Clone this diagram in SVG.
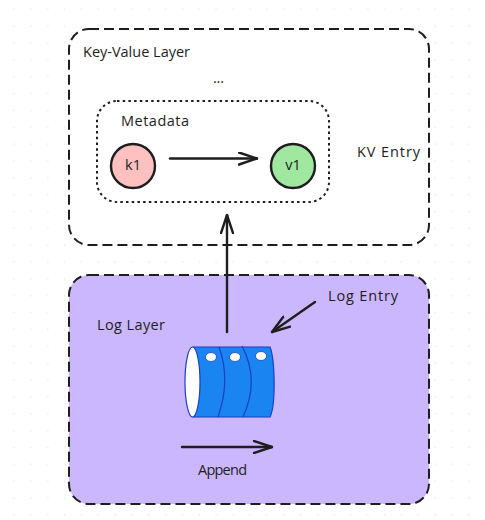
<svg xmlns="http://www.w3.org/2000/svg" width="485" height="520" viewBox="0 0 485 520">
<defs>
<pattern id="dots" x="5.6" y="0.9" width="16.85" height="16.85" patternUnits="userSpaceOnUse"><circle cx="8.4" cy="8.4" r="1" fill="#eeeef2"/></pattern>
<marker id="arr" viewBox="0 0 20 14" markerWidth="20" markerHeight="14" refX="19" refY="7" orient="auto" markerUnits="userSpaceOnUse"><path d="M1 1 L19 7 L1 13" fill="none" stroke="#1e1e1e" stroke-width="2.4" stroke-linecap="round" stroke-linejoin="round"/></marker>
</defs>
<style>
text{font-family:"Open Sans","DejaVu Sans",sans-serif;fill:#1e1e1e;font-size:14.5px}
.line{fill:none;stroke:#1e1e1e;stroke-width:2.4;stroke-linecap:round}
.dash{stroke:#1e1e1e;stroke-width:2;stroke-dasharray:10 5}
.dot{fill:none;stroke:#1e1e1e;stroke-width:2;stroke-dasharray:2.5 3.2}
.c{stroke:#1e1e1e;stroke-width:2.4}
.hole{fill:#fff;stroke:#1a3fc0;stroke-width:.8}
.rib{fill:none;stroke:#1a3fc0;stroke-width:1.2}
</style>
<rect width="485" height="520" fill="#fff"/>
<rect width="485" height="520" fill="url(#dots)"/>
<g id="kv-layer"><rect x="69" y="29" width="360" height="216" rx="20" fill="#fff" class="dash"/>
<text x="83" y="57" textLength="107" lengthAdjust="spacing">Key-Value Layer</text><text x="213" y="83" textLength="11" lengthAdjust="spacing">...</text><text x="357" y="157" textLength="63" lengthAdjust="spacing">KV Entry</text></g>
<g id="metadata"><rect x="97" y="101" width="232" height="101" rx="20" class="dot"/><text x="121" y="126" textLength="68" lengthAdjust="spacing">Metadata</text></g>
<g id="k1"><circle cx="133" cy="166" r="22" fill="#ffc0c0" class="c"/><text x="133" y="170" text-anchor="middle">k1</text></g>
<g id="v1"><circle cx="293" cy="166" r="22" fill="#a0e8a0" class="c"/><text x="293" y="170" text-anchor="middle">v1</text></g>
<g id="log-layer"><rect x="69" y="275" width="360" height="229" rx="20" fill="#cbb7fe" class="dash"/>
<text x="97" y="330" textLength="68" lengthAdjust="spacing">Log Layer</text><text x="328" y="301" textLength="70" lengthAdjust="spacing">Log Entry</text><text x="198" y="475" textLength="49" lengthAdjust="spacing">Append</text></g>
<g id="log-cylinder">
<path d="M193 347 H270 C275 360 276 405 270 417 H193 Z" fill="#1a84f0" stroke="#1a3fc0" stroke-width="1.2"/>
<ellipse cx="192.500" cy="382" rx="7.500" ry="35" fill="#fff" stroke="#1a3fc0" stroke-width="1.2"/>
<path class="rib" d="M219 347 Q231 380 218 417"/><path class="rib" d="M242 346 Q260 380 243 417"/>
<ellipse class="hole" cx="211" cy="357" rx="5.500" ry="4.500"/><ellipse class="hole" cx="235" cy="357" rx="5.500" ry="4.500"/><ellipse class="hole" cx="261" cy="356" rx="5.500" ry="4.500"/>
</g>
<g id="connectors">
<path class="line" d="M170 158.500 H257" marker-end="url(#arr)"/>
<path class="line" d="M227 332 V215" marker-end="url(#arr)"/>
<path class="line" d="M315 302 L272 332" marker-end="url(#arr)"/>
<path class="line" d="M182 447 H272" marker-end="url(#arr)"/>
</g>
</svg>
